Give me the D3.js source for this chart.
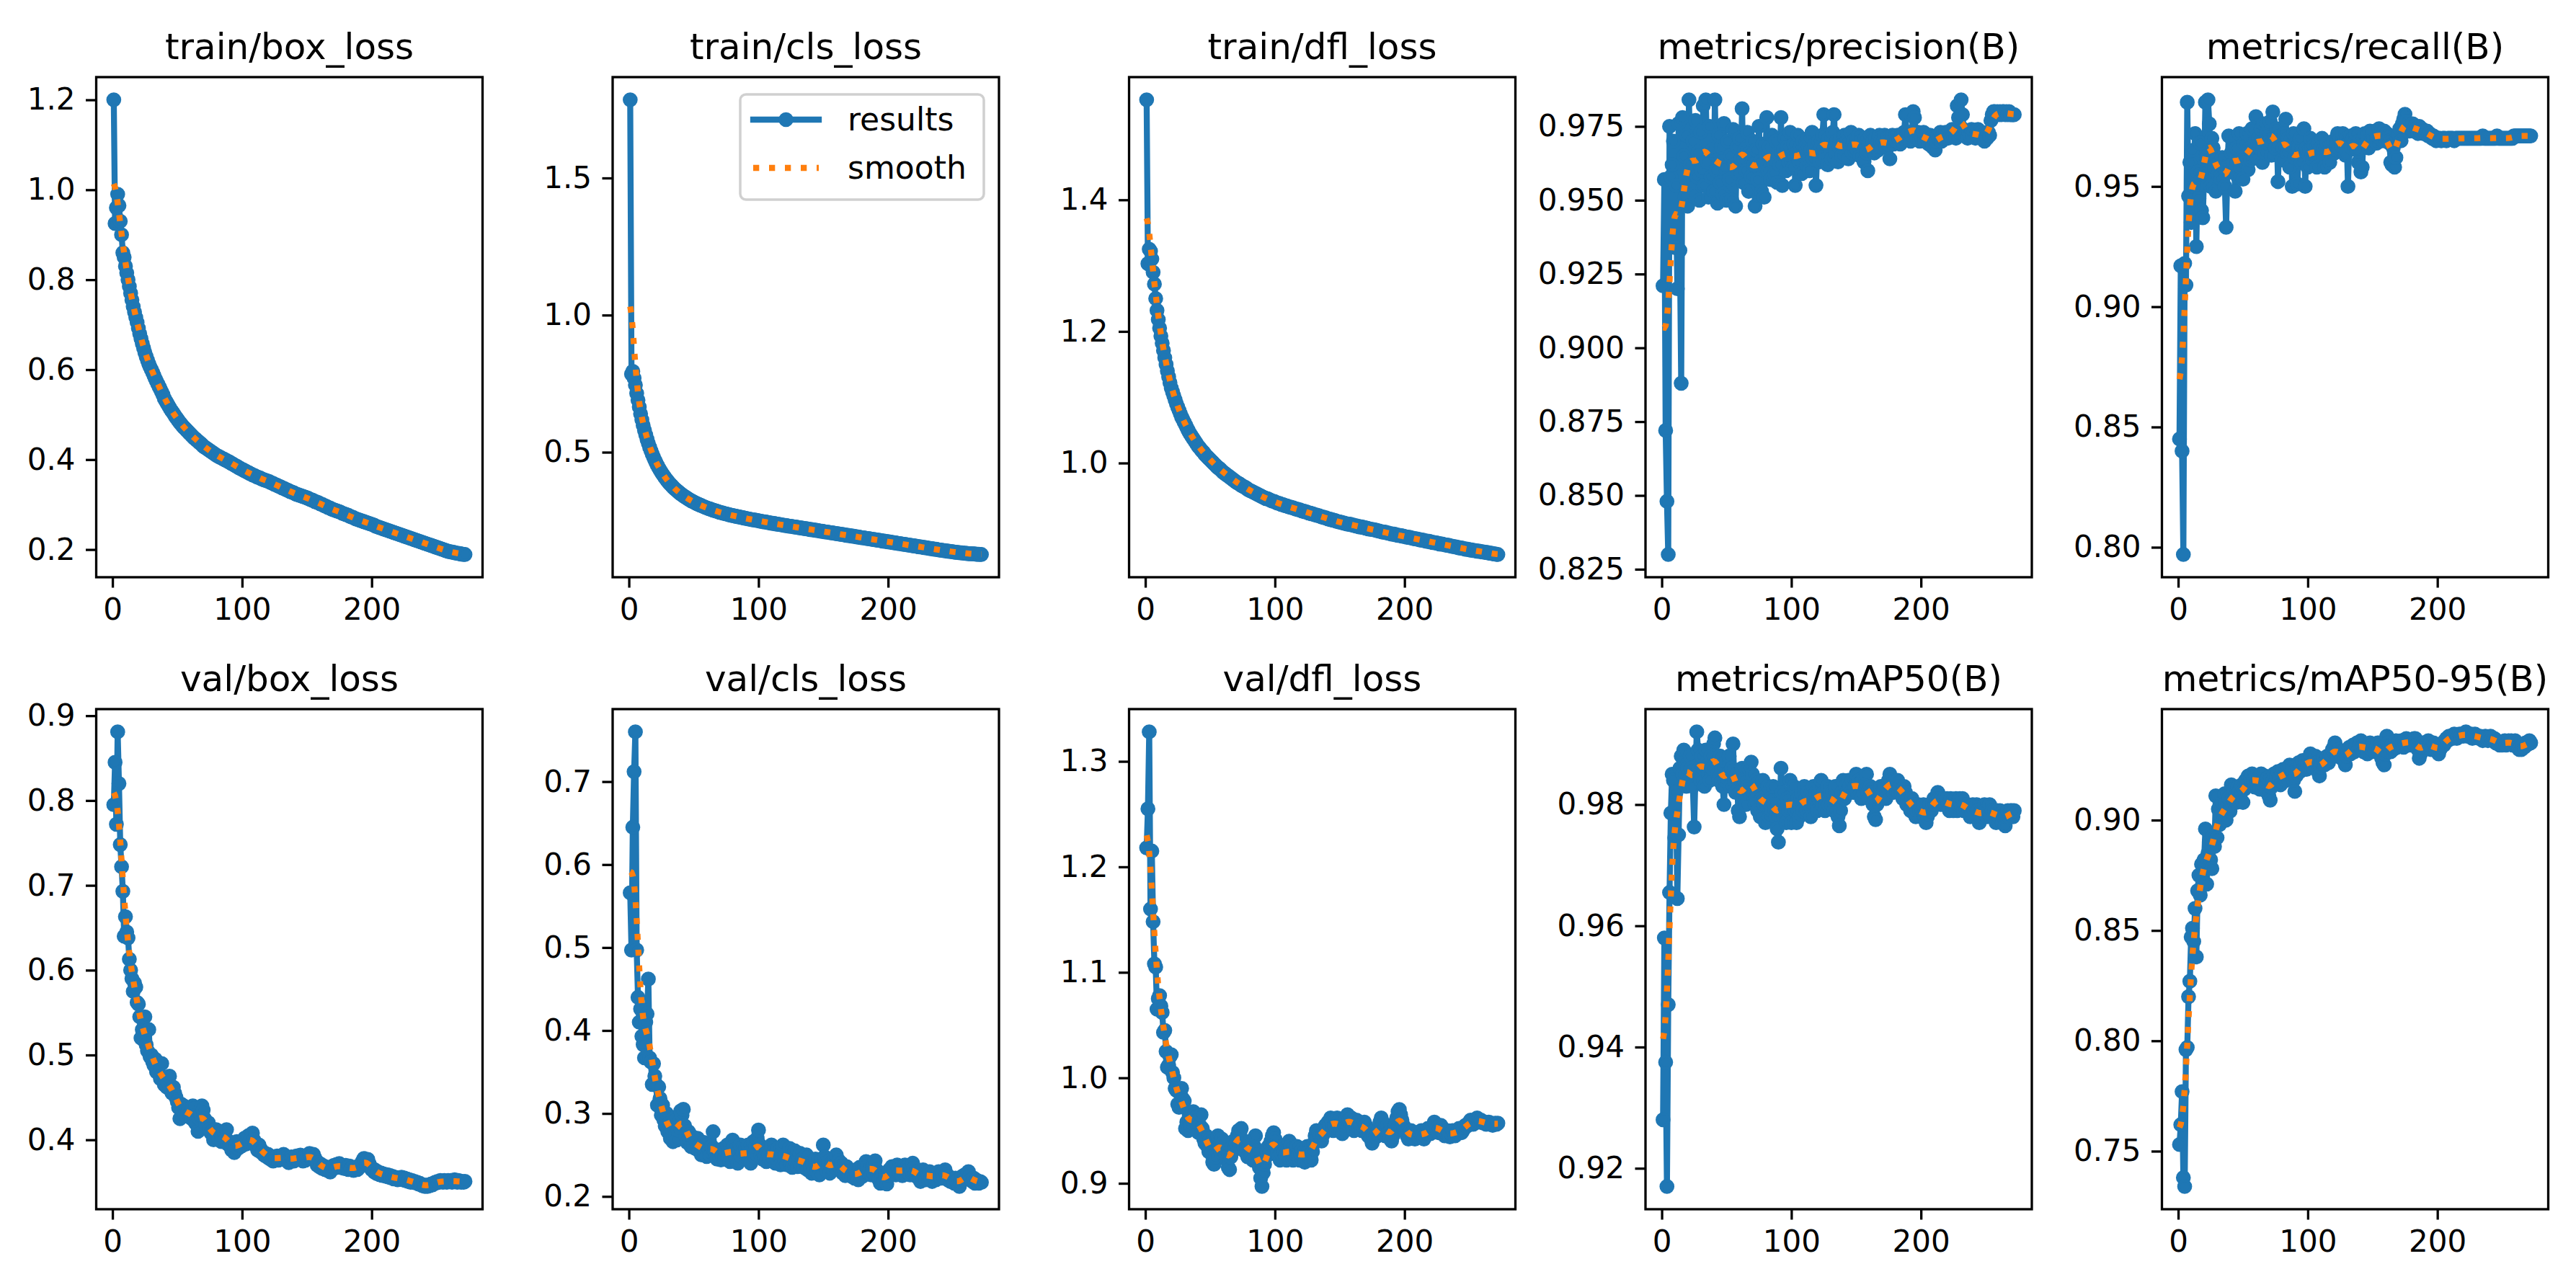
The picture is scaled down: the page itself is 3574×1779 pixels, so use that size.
<!DOCTYPE html>
<html>
<head>
<meta charset="utf-8">
<script src="https://cdn.jsdelivr.net/npm/d3@7"></script>
<style>
html,body{margin:0;padding:0;background:#fff;}
svg{display:block;}
text{font-family:"DejaVu Sans",sans-serif;}
</style>
</head>
<body>
<svg id="chart" width="3574" height="1779"></svg>
<script>
// ---------------- DATA ----------------
const titles = ["train/box_loss","train/cls_loss","train/dfl_loss","metrics/precision(B)","metrics/recall(B)",
                "val/box_loss","val/cls_loss","val/dfl_loss","metrics/mAP50(B)","metrics/mAP50-95(B)"];

const trainBoxLoss = [
1.200,0.925,0.960,0.990,0.965,0.930,0.900,0.860,0.850,0.830,
0.815,0.800,0.785,0.770,0.755,0.740,0.728,0.716,0.705,0.692,
0.680,0.669,0.658,0.648,0.638,0.629,0.621,0.613,0.606,0.600,
0.594,0.587,0.580,0.574,0.568,0.562,0.556,0.550,0.544,0.536,
0.531,0.526,0.521,0.516,0.511,0.507,0.503,0.498,0.494,0.490,
0.486,0.482,0.479,0.475,0.472,0.469,0.466,0.463,0.460,0.457,
0.454,0.451,0.448,0.446,0.443,0.441,0.438,0.436,0.433,0.430,
0.428,0.426,0.424,0.422,0.420,0.418,0.416,0.414,0.412,0.410,
0.408,0.407,0.405,0.404,0.402,0.401,0.399,0.398,0.396,0.395,
0.393,0.391,0.390,0.388,0.386,0.385,0.383,0.381,0.380,0.378,
0.377,0.375,0.374,0.372,0.371,0.369,0.368,0.366,0.365,0.364,
0.362,0.361,0.360,0.359,0.357,0.356,0.355,0.354,0.353,0.352,
0.351,0.349,0.348,0.347,0.345,0.344,0.343,0.341,0.340,0.339,
0.337,0.336,0.335,0.333,0.332,0.331,0.329,0.328,0.327,0.326,
0.324,0.323,0.322,0.321,0.320,0.319,0.318,0.317,0.316,0.315,
0.314,0.312,0.311,0.310,0.309,0.307,0.306,0.305,0.304,0.302,
0.301,0.300,0.298,0.297,0.296,0.294,0.293,0.292,0.290,0.289,
0.288,0.287,0.286,0.285,0.284,0.283,0.281,0.280,0.279,0.278,
0.277,0.276,0.274,0.273,0.272,0.271,0.269,0.268,0.267,0.266,
0.265,0.264,0.263,0.262,0.261,0.260,0.259,0.258,0.257,0.256,
0.255,0.254,0.252,0.251,0.250,0.249,0.248,0.247,0.246,0.245,
0.244,0.243,0.242,0.241,0.240,0.239,0.238,0.237,0.236,0.235,
0.234,0.233,0.232,0.231,0.230,0.229,0.228,0.227,0.226,0.225,
0.224,0.223,0.222,0.221,0.220,0.219,0.218,0.217,0.216,0.215,
0.214,0.213,0.212,0.211,0.210,0.209,0.208,0.207,0.206,0.205,
0.204,0.203,0.202,0.201,0.200,0.199,0.198,0.197,0.196,0.195,
0.195,0.194,0.194,0.193,0.192,0.192,0.191,0.191,0.190,0.190,
0.189,0.189];

const trainClsLoss = [
1.785,0.785,0.795,0.770,0.745,0.715,0.690,0.665,0.640,0.618,
0.598,0.580,0.563,0.547,0.532,0.518,0.505,0.493,0.482,0.471,
0.461,0.452,0.443,0.435,0.427,0.420,0.413,0.406,0.400,0.394,
0.388,0.383,0.378,0.373,0.368,0.364,0.360,0.356,0.352,0.348,
0.345,0.341,0.338,0.335,0.332,0.329,0.326,0.323,0.321,0.318,
0.316,0.313,0.311,0.309,0.307,0.305,0.303,0.301,0.299,0.297,
0.295,0.294,0.292,0.290,0.289,0.287,0.286,0.284,0.283,0.281,
0.280,0.279,0.277,0.276,0.275,0.274,0.272,0.271,0.270,0.269,
0.268,0.267,0.266,0.265,0.264,0.263,0.262,0.261,0.260,0.259,
0.258,0.257,0.256,0.255,0.254,0.253,0.253,0.252,0.251,0.250,
0.249,0.248,0.247,0.246,0.246,0.245,0.244,0.243,0.242,0.241,
0.241,0.240,0.239,0.238,0.237,0.237,0.236,0.235,0.234,0.233,
0.233,0.232,0.231,0.230,0.230,0.229,0.228,0.227,0.227,0.226,
0.225,0.224,0.224,0.223,0.222,0.221,0.221,0.220,0.219,0.218,
0.218,0.217,0.216,0.215,0.215,0.214,0.213,0.212,0.212,0.211,
0.210,0.209,0.209,0.208,0.207,0.206,0.206,0.205,0.204,0.203,
0.203,0.202,0.201,0.200,0.200,0.199,0.198,0.197,0.197,0.196,
0.195,0.194,0.194,0.193,0.192,0.191,0.191,0.190,0.189,0.188,
0.188,0.187,0.186,0.185,0.185,0.184,0.183,0.182,0.182,0.181,
0.180,0.179,0.179,0.178,0.177,0.176,0.176,0.175,0.174,0.173,
0.173,0.172,0.171,0.170,0.170,0.169,0.168,0.167,0.167,0.166,
0.165,0.164,0.164,0.163,0.162,0.161,0.161,0.160,0.159,0.158,
0.158,0.157,0.156,0.155,0.155,0.154,0.153,0.152,0.152,0.151,
0.150,0.149,0.149,0.148,0.147,0.146,0.146,0.145,0.144,0.143,
0.143,0.142,0.141,0.141,0.140,0.139,0.139,0.138,0.137,0.137,
0.136,0.135,0.135,0.134,0.134,0.133,0.133,0.132,0.132,0.131,
0.131,0.130,0.130,0.130,0.129,0.129,0.129,0.128,0.128,0.128,
0.127,0.127];

const trainDflLoss = [
1.552,1.303,1.325,1.322,1.310,1.290,1.272,1.250,1.232,1.218,
1.205,1.193,1.182,1.171,1.160,1.150,1.140,1.131,1.122,1.114,
1.108,1.102,1.096,1.090,1.085,1.080,1.075,1.070,1.066,1.062,
1.058,1.054,1.050,1.046,1.043,1.040,1.037,1.034,1.031,1.028,
1.025,1.023,1.020,1.018,1.016,1.013,1.011,1.009,1.007,1.005,
1.003,1.001,0.999,0.997,0.995,0.993,0.992,0.990,0.988,0.986,
0.985,0.983,0.982,0.980,0.979,0.977,0.976,0.974,0.973,0.971,
0.970,0.969,0.968,0.966,0.965,0.964,0.963,0.962,0.960,0.959,
0.958,0.957,0.956,0.955,0.954,0.953,0.952,0.951,0.950,0.949,
0.948,0.947,0.946,0.946,0.945,0.944,0.943,0.942,0.942,0.941,
0.940,0.939,0.939,0.938,0.937,0.937,0.936,0.935,0.935,0.934,
0.933,0.933,0.932,0.932,0.931,0.930,0.930,0.929,0.929,0.928,
0.927,0.927,0.926,0.926,0.925,0.924,0.924,0.923,0.923,0.922,
0.921,0.921,0.920,0.920,0.919,0.918,0.918,0.917,0.917,0.916,
0.915,0.915,0.914,0.914,0.913,0.913,0.912,0.911,0.911,0.910,
0.910,0.909,0.909,0.908,0.908,0.907,0.907,0.907,0.906,0.906,
0.905,0.905,0.904,0.904,0.903,0.903,0.903,0.902,0.902,0.901,
0.901,0.900,0.900,0.899,0.899,0.899,0.898,0.898,0.897,0.897,
0.896,0.896,0.895,0.895,0.895,0.894,0.894,0.893,0.893,0.892,
0.892,0.892,0.891,0.891,0.890,0.890,0.890,0.889,0.889,0.888,
0.888,0.887,0.887,0.887,0.886,0.886,0.885,0.885,0.885,0.884,
0.884,0.883,0.883,0.883,0.882,0.882,0.881,0.881,0.881,0.880,
0.880,0.879,0.879,0.879,0.878,0.878,0.877,0.877,0.877,0.876,
0.876,0.875,0.875,0.875,0.874,0.874,0.873,0.873,0.873,0.872,
0.872,0.871,0.871,0.871,0.870,0.870,0.869,0.869,0.869,0.868,
0.868,0.868,0.867,0.867,0.867,0.866,0.866,0.866,0.865,0.865,
0.865,0.864,0.864,0.864,0.863,0.863,0.863,0.862,0.862,0.862,
0.861,0.861];

const precision = [
0.921,0.957,0.872,0.848,0.830,0.975,0.958,0.962,0.970,0.934,
0.955,0.920,0.976,0.933,0.888,0.978,0.965,0.951,0.972,0.948,
0.984,0.962,0.955,0.970,0.952,0.977,0.958,0.966,0.950,0.973,
0.960,0.982,0.955,0.984,0.963,0.951,0.975,0.958,0.967,0.953,
0.984,0.960,0.949,0.972,0.956,0.968,0.952,0.976,0.961,0.950,
0.970,0.957,0.965,0.950,0.974,0.962,0.948,0.968,0.959,0.971,
0.964,0.981,0.956,0.967,0.960,0.973,0.953,0.966,0.958,0.970,
0.962,0.948,0.967,0.957,0.975,0.963,0.953,0.969,0.951,0.966,
0.978,0.960,0.968,0.957,0.972,0.963,0.959,0.970,0.956,0.966,
0.962,0.978,0.955,0.967,0.971,0.960,0.968,0.963,0.973,0.965,
0.961,0.969,0.955,0.966,0.972,0.963,0.968,0.959,0.970,0.965,
0.968,0.962,0.971,0.960,0.967,0.973,0.964,0.969,0.955,0.966,
0.970,0.963,0.968,0.972,0.979,0.965,0.969,0.962,0.971,0.967,
0.964,0.973,0.979,0.966,0.970,0.963,0.968,0.971,0.965,0.969,
0.972,0.967,0.970,0.964,0.969,0.973,0.966,0.970,0.968,0.971,
0.967,0.972,0.965,0.970,0.968,0.963,0.971,0.966,0.960,0.969,
0.972,0.968,0.970,0.966,0.971,0.969,0.967,0.972,0.970,0.968,
0.970,0.972,0.968,0.971,0.969,0.964,0.970,0.972,0.969,0.971,
0.970,0.972,0.971,0.969,0.972,0.970,0.973,0.979,0.972,0.971,
0.973,0.970,0.972,0.980,0.978,0.972,0.971,0.973,0.970,0.972,
0.971,0.973,0.970,0.972,0.971,0.969,0.972,0.970,0.968,0.971,
0.967,0.970,0.972,0.971,0.973,0.970,0.972,0.971,0.973,0.972,
0.971,0.973,0.972,0.974,0.972,0.973,0.971,0.982,0.978,0.973,
0.984,0.979,0.974,0.972,0.973,0.971,0.973,0.972,0.974,0.972,
0.973,0.971,0.972,0.974,0.972,0.971,0.973,0.971,0.970,0.972,
0.971,0.973,0.972,0.977,0.979,0.980,0.980,0.979,0.980,0.979,
0.980,0.979,0.980,0.980,0.979,0.980,0.979,0.980,0.979,0.979,
0.979,0.979];

const recall = [
0.845,0.917,0.840,0.797,0.918,0.909,0.985,0.946,0.960,0.935,
0.965,0.950,0.972,0.925,0.956,0.945,0.968,0.940,0.937,0.955,
0.985,0.962,0.986,0.976,0.950,0.970,0.966,0.958,0.948,0.962,
0.955,0.960,0.953,0.962,0.958,0.950,0.933,0.958,0.971,0.956,
0.964,0.970,0.960,0.948,0.966,0.954,0.972,0.958,0.962,0.953,
0.968,0.960,0.972,0.957,0.966,0.961,0.974,0.963,0.968,0.979,
0.962,0.970,0.966,0.974,0.960,0.976,0.964,0.972,0.968,0.975,
0.977,0.963,0.981,0.970,0.966,0.974,0.952,0.968,0.971,0.961,
0.966,0.972,0.978,0.964,0.970,0.958,0.967,0.950,0.972,0.962,
0.968,0.951,0.966,0.970,0.960,0.965,0.974,0.950,0.966,0.958,
0.963,0.970,0.966,0.961,0.967,0.963,0.958,0.968,0.964,0.966,
0.970,0.962,0.958,0.966,0.968,0.963,0.960,0.967,0.965,0.969,
0.964,0.968,0.972,0.966,0.970,0.967,0.972,0.968,0.963,0.970,
0.950,0.968,0.971,0.966,0.970,0.968,0.972,0.965,0.960,0.969,
0.956,0.958,0.970,0.972,0.968,0.971,0.966,0.973,0.969,0.972,
0.970,0.973,0.968,0.971,0.974,0.970,0.972,0.969,0.973,0.971,
0.972,0.970,0.968,0.960,0.959,0.966,0.958,0.962,0.970,0.972,
0.974,0.969,0.976,0.978,0.980,0.977,0.975,0.973,0.975,0.974,
0.976,0.973,0.975,0.974,0.972,0.975,0.973,0.974,0.972,0.973,
0.972,0.973,0.971,0.972,0.971,0.970,0.971,0.970,0.969,0.970,
0.970,0.970,0.969,0.970,0.970,0.970,0.969,0.970,0.970,0.970,
0.970,0.970,0.969,0.970,0.970,0.970,0.970,0.970,0.970,0.970,
0.970,0.970,0.970,0.970,0.970,0.970,0.970,0.970,0.970,0.970,
0.970,0.970,0.970,0.970,0.971,0.970,0.970,0.970,0.970,0.970,
0.970,0.970,0.970,0.970,0.970,0.971,0.970,0.970,0.970,0.970,
0.970,0.970,0.970,0.970,0.970,0.970,0.970,0.970,0.971,0.971,
0.971,0.971,0.971,0.971,0.971,0.971,0.971,0.971,0.971,0.971,
0.971,0.971];

const valBoxLoss = [
0.795,0.845,0.772,0.881,0.820,0.748,0.722,0.693,0.640,0.663,
0.645,0.638,0.613,0.600,0.590,0.575,0.585,0.580,0.562,0.560,
0.545,0.520,0.530,0.518,0.545,0.512,0.505,0.530,0.498,0.500,
0.492,0.488,0.495,0.480,0.485,0.478,0.472,0.490,0.470,0.465,
0.470,0.462,0.468,0.475,0.458,0.455,0.462,0.455,0.450,0.445,
0.438,0.425,0.442,0.435,0.440,0.430,0.428,0.432,0.436,0.430,
0.425,0.440,0.428,0.420,0.418,0.410,0.425,0.430,0.440,0.435,
0.425,0.418,0.415,0.420,0.412,0.408,0.410,0.400,0.405,0.412,
0.408,0.402,0.410,0.398,0.404,0.410,0.400,0.412,0.395,0.398,
0.392,0.388,0.395,0.385,0.392,0.398,0.390,0.394,0.396,0.393,
0.398,0.402,0.395,0.400,0.405,0.398,0.402,0.408,0.400,0.395,
0.392,0.388,0.394,0.390,0.385,0.386,0.382,0.384,0.380,0.383,
0.378,0.380,0.376,0.375,0.380,0.378,0.381,0.376,0.378,0.380,
0.377,0.383,0.380,0.376,0.379,0.373,0.377,0.380,0.378,0.375,
0.379,0.381,0.377,0.380,0.382,0.378,0.375,0.380,0.376,0.379,
0.382,0.384,0.380,0.378,0.383,0.379,0.376,0.370,0.373,0.368,
0.371,0.366,0.369,0.365,0.368,0.364,0.367,0.362,0.366,0.369,
0.370,0.367,0.371,0.368,0.372,0.370,0.367,0.369,0.366,0.370,
0.368,0.365,0.369,0.366,0.367,0.364,0.366,0.368,0.365,0.367,
0.370,0.372,0.375,0.378,0.376,0.373,0.377,0.372,0.368,0.365,
0.366,0.362,0.364,0.360,0.362,0.359,0.361,0.358,0.360,0.358,
0.357,0.359,0.356,0.358,0.355,0.357,0.354,0.356,0.355,0.353,
0.355,0.354,0.356,0.353,0.355,0.352,0.354,0.351,0.353,0.350,
0.352,0.350,0.351,0.349,0.350,0.348,0.349,0.347,0.346,0.347,
0.345,0.346,0.345,0.347,0.346,0.348,0.347,0.349,0.350,0.349,
0.351,0.350,0.352,0.351,0.350,0.352,0.351,0.350,0.352,0.351,
0.352,0.350,0.351,0.353,0.351,0.350,0.352,0.351,0.350,0.351,
0.350,0.351];

const valClsLoss = [
0.566,0.497,0.645,0.712,0.760,0.497,0.440,0.410,0.426,0.393,
0.383,0.367,0.410,0.420,0.462,0.367,0.362,0.335,0.360,0.345,
0.335,0.310,0.332,0.318,0.298,0.310,0.292,0.285,0.300,0.278,
0.288,0.270,0.282,0.266,0.295,0.275,0.268,0.280,0.290,0.303,
0.298,0.305,0.285,0.272,0.265,0.278,0.268,0.260,0.272,0.262,
0.258,0.266,0.270,0.255,0.262,0.250,0.258,0.265,0.255,0.248,
0.262,0.256,0.250,0.260,0.278,0.254,0.248,0.245,0.256,0.252,
0.244,0.250,0.258,0.246,0.255,0.262,0.248,0.242,0.255,0.268,
0.260,0.250,0.245,0.240,0.255,0.262,0.248,0.252,0.245,0.258,
0.250,0.262,0.246,0.240,0.255,0.266,0.248,0.260,0.270,0.280,
0.262,0.250,0.245,0.255,0.248,0.242,0.258,0.250,0.245,0.262,
0.248,0.255,0.240,0.246,0.258,0.250,0.238,0.252,0.262,0.245,
0.250,0.238,0.246,0.258,0.240,0.235,0.248,0.255,0.242,0.236,
0.244,0.252,0.238,0.245,0.235,0.242,0.250,0.232,0.240,0.236,
0.228,0.238,0.232,0.245,0.230,0.236,0.226,0.240,0.245,0.262,
0.248,0.236,0.230,0.242,0.228,0.235,0.240,0.232,0.246,0.250,
0.238,0.243,0.235,0.240,0.228,0.232,0.225,0.236,0.230,0.226,
0.230,0.224,0.228,0.222,0.232,0.226,0.220,0.235,0.228,0.224,
0.230,0.238,0.242,0.236,0.228,0.232,0.226,0.235,0.240,0.243,
0.232,0.226,0.220,0.216,0.222,0.228,0.218,0.224,0.215,0.226,
0.232,0.228,0.236,0.230,0.235,0.226,0.238,0.232,0.228,0.230,
0.225,0.234,0.238,0.230,0.236,0.228,0.226,0.232,0.240,0.234,
0.228,0.224,0.230,0.222,0.218,0.226,0.232,0.225,0.220,0.228,
0.226,0.230,0.222,0.218,0.224,0.228,0.220,0.226,0.230,0.225,
0.222,0.228,0.224,0.232,0.226,0.220,0.224,0.218,0.222,0.220,
0.216,0.222,0.218,0.214,0.212,0.218,0.224,0.220,0.226,0.222,
0.226,0.230,0.224,0.220,0.218,0.222,0.216,0.220,0.218,0.216,
0.218,0.217];

const valDflLoss = [
1.218,1.255,1.328,1.160,1.215,1.148,1.108,1.105,1.065,1.075,
1.078,1.068,1.062,1.043,1.045,1.025,1.010,1.012,1.020,1.022,
1.005,1.000,0.990,0.988,0.975,0.972,0.985,0.990,0.980,0.978,
0.952,0.958,0.950,0.962,0.955,0.960,0.968,0.965,0.962,0.956,
0.948,0.955,0.965,0.952,0.942,0.938,0.945,0.935,0.930,0.942,
0.928,0.920,0.918,0.925,0.940,0.945,0.935,0.930,0.942,0.938,
0.930,0.928,0.922,0.915,0.913,0.925,0.935,0.940,0.932,0.938,
0.945,0.950,0.948,0.952,0.940,0.935,0.930,0.932,0.925,0.935,
0.940,0.928,0.922,0.935,0.945,0.930,0.920,0.915,0.905,0.897,
0.910,0.918,0.925,0.930,0.935,0.928,0.940,0.945,0.948,0.942,
0.935,0.930,0.925,0.922,0.928,0.935,0.930,0.926,0.922,0.932,
0.940,0.935,0.928,0.922,0.925,0.930,0.935,0.926,0.922,0.928,
0.932,0.925,0.920,0.928,0.935,0.930,0.924,0.922,0.930,0.938,
0.945,0.950,0.942,0.948,0.945,0.940,0.946,0.950,0.955,0.952,
0.958,0.955,0.962,0.958,0.950,0.955,0.960,0.962,0.958,0.955,
0.950,0.947,0.952,0.958,0.962,0.965,0.960,0.958,0.962,0.955,
0.950,0.955,0.960,0.958,0.952,0.955,0.950,0.954,0.958,0.955,
0.950,0.945,0.948,0.942,0.938,0.945,0.950,0.944,0.948,0.952,
0.958,0.962,0.955,0.950,0.945,0.950,0.955,0.948,0.942,0.940,
0.945,0.950,0.955,0.962,0.968,0.970,0.965,0.960,0.955,0.950,
0.948,0.945,0.942,0.945,0.950,0.948,0.944,0.942,0.945,0.948,
0.944,0.948,0.950,0.946,0.942,0.945,0.948,0.952,0.950,0.947,
0.950,0.955,0.958,0.956,0.952,0.948,0.952,0.955,0.950,0.947,
0.945,0.948,0.950,0.946,0.944,0.947,0.950,0.948,0.945,0.947,
0.949,0.952,0.950,0.948,0.950,0.953,0.955,0.954,0.956,0.958,
0.960,0.958,0.956,0.958,0.960,0.962,0.960,0.958,0.960,0.958,
0.957,0.958,0.956,0.957,0.958,0.956,0.957,0.955,0.956,0.957,
0.956,0.957];

const mAP50 = [
0.928,0.958,0.9375,0.917,0.947,0.9655,0.9786,0.985,0.984,0.9745,
0.982,0.9645,0.975,0.986,0.988,0.985,0.989,0.987,0.983,0.986,
0.984,0.988,0.986,0.983,0.9763,0.985,0.992,0.989,0.986,0.984,
0.988,0.986,0.983,0.989,0.987,0.985,0.984,0.988,0.986,0.990,
0.991,0.987,0.985,0.984,0.988,0.986,0.983,0.980,0.984,0.987,
0.985,0.988,0.983,0.986,0.990,0.984,0.982,0.985,0.979,0.978,
0.982,0.986,0.981,0.984,0.980,0.983,0.986,0.982,0.987,0.985,
0.982,0.980,0.984,0.979,0.983,0.978,0.981,0.984,0.980,0.977,
0.980,0.983,0.978,0.981,0.979,0.983,0.980,0.978,0.976,0.9738,
0.979,0.986,0.982,0.978,0.980,0.977,0.981,0.979,0.984,0.977,
0.980,0.983,0.979,0.977,0.981,0.978,0.980,0.982,0.979,0.983,
0.981,0.979,0.982,0.980,0.978,0.981,0.983,0.980,0.982,0.979,
0.981,0.983,0.984,0.980,0.982,0.979,0.981,0.983,0.980,0.982,
0.980,0.982,0.979,0.983,0.981,0.978,0.9765,0.979,0.982,0.984,
0.981,0.983,0.982,0.984,0.983,0.982,0.984,0.982,0.983,0.985,
0.982,0.984,0.983,0.981,0.984,0.982,0.983,0.985,0.982,0.981,
0.983,0.982,0.980,0.978,0.9775,0.980,0.982,0.981,0.983,0.982,
0.982,0.983,0.981,0.983,0.984,0.985,0.984,0.983,0.982,0.984,
0.983,0.984,0.982,0.983,0.982,0.981,0.983,0.982,0.980,0.981,
0.980,0.979,0.981,0.980,0.979,0.978,0.979,0.980,0.979,0.978,
0.979,0.980,0.978,0.977,0.978,0.979,0.980,0.979,0.980,0.981,
0.980,0.981,0.982,0.981,0.980,0.981,0.980,0.981,0.980,0.981,
0.980,0.979,0.981,0.980,0.979,0.980,0.981,0.979,0.980,0.981,
0.980,0.981,0.979,0.980,0.979,0.980,0.979,0.978,0.979,0.980,
0.979,0.978,0.980,0.979,0.977,0.978,0.979,0.978,0.980,0.979,
0.978,0.979,0.980,0.978,0.979,0.978,0.979,0.977,0.979,0.978,
0.979,0.978,0.977,0.978,0.9765,0.978,0.979,0.978,0.979,0.979,
0.978,0.979];

const mAP5095 = [
0.753,0.762,0.777,0.738,0.734,0.796,0.797,0.820,0.827,0.847,
0.851,0.845,0.860,0.838,0.868,0.875,0.866,0.880,0.872,0.882,
0.896,0.871,0.885,0.890,0.882,0.878,0.893,0.888,0.911,0.892,
0.905,0.898,0.902,0.908,0.900,0.912,0.900,0.906,0.910,0.904,
0.916,0.910,0.914,0.911,0.908,0.915,0.913,0.910,0.916,0.908,
0.914,0.918,0.916,0.920,0.917,0.919,0.921,0.918,0.915,0.920,
0.917,0.919,0.914,0.921,0.918,0.916,0.920,0.913,0.919,0.911,
0.909,0.915,0.918,0.921,0.917,0.920,0.922,0.919,0.916,0.921,
0.923,0.920,0.918,0.922,0.924,0.925,0.921,0.923,0.918,0.913,
0.920,0.924,0.926,0.922,0.925,0.927,0.924,0.926,0.923,0.925,
0.928,0.930,0.926,0.924,0.927,0.929,0.926,0.922,0.920,0.924,
0.926,0.928,0.925,0.927,0.929,0.926,0.928,0.930,0.932,0.933,
0.935,0.931,0.929,0.932,0.930,0.928,0.931,0.927,0.925,0.929,
0.931,0.933,0.930,0.932,0.934,0.931,0.933,0.935,0.932,0.934,
0.936,0.933,0.931,0.934,0.932,0.930,0.933,0.935,0.932,0.934,
0.933,0.931,0.933,0.935,0.932,0.930,0.928,0.926,0.925,0.930,
0.938,0.935,0.933,0.931,0.934,0.932,0.934,0.936,0.933,0.935,
0.934,0.936,0.935,0.933,0.935,0.937,0.935,0.936,0.934,0.936,
0.935,0.937,0.937,0.934,0.932,0.928,0.930,0.933,0.935,0.934,
0.933,0.935,0.936,0.934,0.932,0.933,0.935,0.934,0.932,0.931,
0.930,0.932,0.933,0.935,0.934,0.936,0.937,0.936,0.938,0.937,
0.938,0.937,0.939,0.938,0.937,0.938,0.939,0.938,0.939,0.938,
0.939,0.940,0.938,0.939,0.938,0.939,0.937,0.938,0.939,0.938,
0.938,0.937,0.938,0.937,0.936,0.937,0.938,0.937,0.936,0.937,
0.938,0.937,0.936,0.937,0.935,0.936,0.935,0.934,0.935,0.934,
0.935,0.936,0.934,0.935,0.936,0.935,0.936,0.934,0.935,0.936,
0.934,0.933,0.932,0.933,0.932,0.934,0.933,0.935,0.934,0.935,
0.936,0.935];

const xTicks = [0, 100, 200];
const yTicks = [
  [0.2,0.4,0.6,0.8,1.0,1.2],
  [0.5,1.0,1.5],
  [1.0,1.2,1.4],
  [0.825,0.850,0.875,0.900,0.925,0.950,0.975],
  [0.80,0.85,0.90,0.95],
  [0.4,0.5,0.6,0.7,0.8,0.9],
  [0.2,0.3,0.4,0.5,0.6,0.7],
  [0.9,1.0,1.1,1.2,1.3],
  [0.92,0.94,0.96,0.98],
  [0.75,0.80,0.85,0.90]
];
const yTickDecimals = [1,1,1,3,2,1,1,1,2,2];
const legendLabels = ["results", "smooth"];

// ---------------- DRAWING ----------------
const series = [trainBoxLoss, trainClsLoss, trainDflLoss, precision, recall,
                valBoxLoss, valClsLoss, valDflLoss, mAP50, mAP5095];

const W = 3574, H = 1779;
const C0 = "#1f77b4", C1 = "#ff7f0e";
const axLeft0 = 133.5, colStep = 716.5, axW = 536, axH = 694;
const rowTops = [107, 984];
const lw = 8.3, markerR = 8.3, markerStroke = 4.1;
const spineW = 3.3, tickLen = 14.5, tickPad = 14.5;
const tickFont = 42, titleFont = 50, legendFont = 44;

function gaussianFilter1d(arr, sigma) {
  const radius = Math.floor(4 * sigma + 0.5);
  const w = []; let s = 0;
  for (let k = -radius; k <= radius; k++) { const v = Math.exp(-0.5 * k * k / (sigma * sigma)); w.push(v); s += v; }
  const n = arr.length;
  return arr.map((_, i) => {
    let acc = 0;
    for (let k = -radius; k <= radius; k++) {
      let j = i + k;
      while (j < 0 || j >= n) { if (j < 0) j = -j - 1; else j = 2 * n - j - 1; }
      acc += arr[j] * w[k + radius];
    }
    return acc / s;
  });
}

const svg = d3.select("#chart");
svg.append("rect").attr("width", W).attr("height", H).attr("fill", "#fff");

series.forEach((vals, idx) => {
  const col = idx % 5, row = Math.floor(idx / 5);
  const left = axLeft0 + col * colStep, top = rowTops[row];
  const epochs = vals.map((_, i) => i + 1);
  const n = epochs.length;
  const xr = epochs[n - 1] - epochs[0];
  const x = d3.scaleLinear().domain([epochs[0] - 0.05 * xr, epochs[n - 1] + 0.05 * xr]).range([0, axW]);
  const [mn, mx] = d3.extent(vals);
  const yr = mx - mn;
  const y = d3.scaleLinear().domain([mn - 0.05 * yr, mx + 0.05 * yr]).range([axH, 0]);

  const g = svg.append("g").attr("transform", `translate(${left},${top})`);

  // results line + markers
  const line = d3.line().x((d, i) => x(epochs[i])).y(d => y(d));
  g.append("path").datum(vals).attr("d", line)
    .attr("fill", "none").attr("stroke", C0).attr("stroke-width", lw)
    .attr("stroke-linejoin", "round").attr("stroke-linecap", "square");
  g.append("g").selectAll("circle").data(vals).join("circle")
    .attr("cx", (d, i) => x(epochs[i])).attr("cy", d => y(d)).attr("r", markerR)
    .attr("fill", C0).attr("stroke", C0).attr("stroke-width", markerStroke);

  // smooth
  const sm = gaussianFilter1d(vals, 3);
  g.append("path").datum(sm).attr("d", line)
    .attr("fill", "none").attr("stroke", C1).attr("stroke-width", lw)
    .attr("stroke-dasharray", `${lw},${(1.65 * lw).toFixed(2)}`)
    .attr("stroke-linecap", "butt");

  // axes
  const fmt = d3.format(`.${yTickDecimals[idx]}f`);
  const xAxis = d3.axisBottom(x).tickValues(xTicks).tickSize(tickLen).tickPadding(tickPad).tickFormat(d3.format("d"));
  const yAxis = d3.axisLeft(y).tickValues(yTicks[idx]).tickSize(tickLen).tickPadding(tickPad).tickFormat(fmt);
  const gx = g.append("g").attr("transform", `translate(0,${axH})`).call(xAxis);
  const gy = g.append("g").call(yAxis);
  [gx, gy].forEach(a => {
    a.select(".domain").remove();
    a.selectAll(".tick line").attr("stroke", "#000").attr("stroke-width", spineW);
    a.selectAll(".tick text").attr("fill", "#000").style("font-size", tickFont + "px")
      .style("font-family", "'DejaVu Sans', sans-serif");
  });

  // spines
  g.append("rect").attr("x", 0).attr("y", 0).attr("width", axW).attr("height", axH)
    .attr("fill", "none").attr("stroke", "#000").attr("stroke-width", spineW);

  // title
  g.append("text").attr("x", axW / 2).attr("y", -25).attr("text-anchor", "middle")
    .style("font-size", titleFont + "px").attr("fill", "#000").text(titles[idx]);

  // legend on second panel
  if (idx === 1) {
    const bw = 338, bh = 146;
    const lg = g.append("g").attr("transform", `translate(${axW - 21 - bw},${24})`);
    lg.append("rect").attr("width", bw).attr("height", bh).attr("rx", 8).attr("ry", 8)
      .attr("fill", "#fff").attr("fill-opacity", 0.8).attr("stroke", "#d0d0d0").attr("stroke-width", 3.5);
    const hx0 = 18, hx1 = 109, tx = 149;
    const rows = [35, 102];
    lg.append("line").attr("x1", hx0).attr("x2", hx1).attr("y1", rows[0]).attr("y2", rows[0])
      .attr("stroke", C0).attr("stroke-width", lw).attr("stroke-linecap", "square");
    lg.append("circle").attr("cx", (hx0 + hx1) / 2).attr("cy", rows[0]).attr("r", markerR)
      .attr("fill", C0).attr("stroke", C0).attr("stroke-width", markerStroke);
    lg.append("line").attr("x1", hx0).attr("x2", hx1).attr("y1", rows[1]).attr("y2", rows[1])
      .attr("stroke", C1).attr("stroke-width", lw)
      .attr("stroke-dasharray", `${lw},${(1.65 * lw).toFixed(2)}`).attr("stroke-linecap", "butt");
    legendLabels.forEach((t, i) => {
      lg.append("text").attr("x", tx).attr("y", rows[i]).attr("dy", "0.35em")
        .style("font-size", legendFont + "px").attr("fill", "#000").text(t);
    });
  }
});
</script>
</body>
</html>
